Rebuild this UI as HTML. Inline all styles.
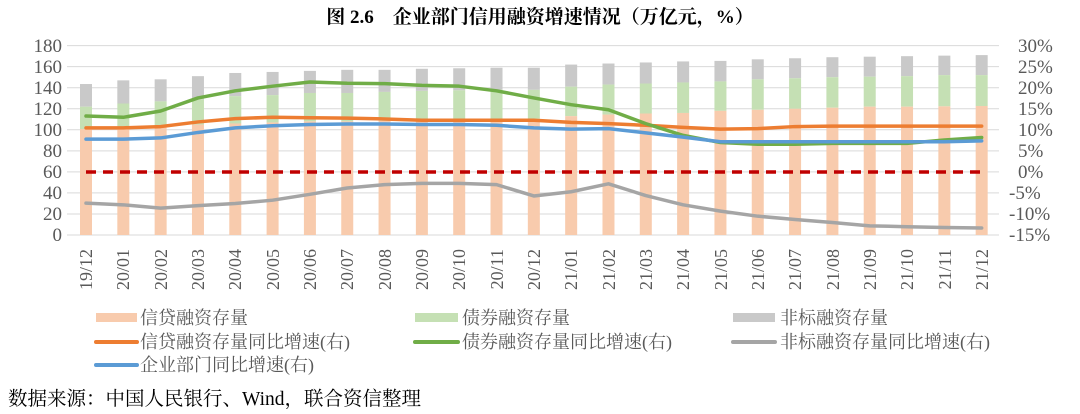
<!DOCTYPE html><html><head><meta charset="utf-8"><style>
body{margin:0;background:#fff;width:1080px;height:409px;overflow:hidden}
svg text{font-family:"Liberation Serif","Noto Serif CJK SC",serif;fill:#595959}
</style></head><body>
<svg id="s" width="1080" height="409" xmlns="http://www.w3.org/2000/svg">
<text x="540" y="23" text-anchor="middle" style="font-size:19px;font-weight:bold;fill:#000">图 2.6　企业部门信用融资增速情况（万亿元，%）</text>
<g id="grid" stroke="#d9d9d9" stroke-width="1"></g>
<g id="bars"></g>
<g id="lines"></g>
<g font-size="19">
<text x="62" y="52" text-anchor="end">180</text>
<text x="62" y="73" text-anchor="end">160</text>
<text x="62" y="94" text-anchor="end">140</text>
<text x="62" y="115" text-anchor="end">120</text>
<text x="62" y="136" text-anchor="end">100</text>
<text x="62" y="157" text-anchor="end">80</text>
<text x="62" y="178" text-anchor="end">60</text>
<text x="62" y="199" text-anchor="end">40</text>
<text x="62" y="220" text-anchor="end">20</text>
<text x="62" y="241" text-anchor="end">0</text>
<text x="1018" y="52">30%</text>
<text x="1018" y="73">25%</text>
<text x="1018" y="94">20%</text>
<text x="1018" y="115">15%</text>
<text x="1018" y="136">10%</text>
<text x="1018" y="157">5%</text>
<text x="1018" y="178">0%</text>
<text x="1009" y="199">-5%</text>
<text x="1009" y="220">-10%</text>
<text x="1009" y="241">-15%</text>
</g>
<g font-size="18" id="xl">
<text transform="translate(92,249) rotate(-90)" text-anchor="end">19/12</text>
<text transform="translate(129,249) rotate(-90)" text-anchor="end">20/01</text>
<text transform="translate(167,249) rotate(-90)" text-anchor="end">20/02</text>
<text transform="translate(204,249) rotate(-90)" text-anchor="end">20/03</text>
<text transform="translate(241,249) rotate(-90)" text-anchor="end">20/04</text>
<text transform="translate(279,249) rotate(-90)" text-anchor="end">20/05</text>
<text transform="translate(316,249) rotate(-90)" text-anchor="end">20/06</text>
<text transform="translate(353,249) rotate(-90)" text-anchor="end">20/07</text>
<text transform="translate(391,249) rotate(-90)" text-anchor="end">20/08</text>
<text transform="translate(428,249) rotate(-90)" text-anchor="end">20/09</text>
<text transform="translate(465,249) rotate(-90)" text-anchor="end">20/10</text>
<text transform="translate(503,249) rotate(-90)" text-anchor="end">20/11</text>
<text transform="translate(540,249) rotate(-90)" text-anchor="end">20/12</text>
<text transform="translate(577,249) rotate(-90)" text-anchor="end">21/01</text>
<text transform="translate(615,249) rotate(-90)" text-anchor="end">21/02</text>
<text transform="translate(652,249) rotate(-90)" text-anchor="end">21/03</text>
<text transform="translate(689,249) rotate(-90)" text-anchor="end">21/04</text>
<text transform="translate(727,249) rotate(-90)" text-anchor="end">21/05</text>
<text transform="translate(764,249) rotate(-90)" text-anchor="end">21/06</text>
<text transform="translate(801,249) rotate(-90)" text-anchor="end">21/07</text>
<text transform="translate(839,249) rotate(-90)" text-anchor="end">21/08</text>
<text transform="translate(876,249) rotate(-90)" text-anchor="end">21/09</text>
<text transform="translate(913,249) rotate(-90)" text-anchor="end">21/10</text>
<text transform="translate(951,249) rotate(-90)" text-anchor="end">21/11</text>
<text transform="translate(988,249) rotate(-90)" text-anchor="end">21/12</text>
</g>
<g font-size="18">
<rect x="96" y="313" width="41" height="9" fill="#f8cbad"/><text x="140" y="324">信贷融资存量</text>
<rect x="415" y="313" width="43" height="9" fill="#c5e0b4"/><text x="462" y="324">债券融资存量</text>
<rect x="733" y="313" width="42" height="9" fill="#c9c9c9"/><text x="780" y="324">非标融资存量</text>
<line x1="96" y1="342" x2="137" y2="342" stroke="#ed7d31" stroke-width="4" stroke-linecap="round"/><text x="140" y="348">信贷融资存量同比增速(右)</text>
<line x1="415" y1="342" x2="458" y2="342" stroke="#70ad47" stroke-width="4" stroke-linecap="round"/><text x="462" y="348">债券融资存量同比增速(右)</text>
<line x1="733" y1="342" x2="775" y2="342" stroke="#a5a5a5" stroke-width="4" stroke-linecap="round"/><text x="780" y="348">非标融资存量同比增速(右)</text>
<line x1="96" y1="365" x2="137" y2="365" stroke="#5b9bd5" stroke-width="4" stroke-linecap="round"/><text x="140" y="371">企业部门同比增速(右)</text>
</g>
<text x="8" y="405" style="font-size:19.5px;fill:#000">数据来源：中国人民银行、Wind，联合资信整理</text>
</svg>
<script>
const NS="http://www.w3.org/2000/svg";
function el(p,t,a){const e=document.createElementNS(NS,t);for(const k in a)e.setAttribute(k,a[k]);p.appendChild(e);return e;}
const g=document.getElementById('grid'),b=document.getElementById('bars'),l=document.getElementById('lines');
const y0=235,sc=1.052;
for(let i=1;i<=9;i++){const y=y0-i*20*sc;el(g,'line',{x1:67,x2:999,y1:y,y2:y});}
el(g,'line',{x1:67,x2:999,y1:y0,y2:y0});
const X=i=>86+37.32*i;
const credit=[100.7,101.5,102.5,105,106,107,108,108,108.5,109,109.5,110,110.5,113,114.5,115.5,116,118,119,120,121,122,122,122.3,122.6];
const green=[122,125,127,129,132,133,135,135,136,137,137.5,138,138,141,143,144,145,146,148,149,150,150.5,151,152,152];
const total=[143.5,147,148,151,154,155,156,157,157,158,158.5,159,159,162,163,164,165,165.5,167,168,169,169.5,170,170.5,171];
for(let i=0;i<25;i++){const x=X(i)-6;
el(b,'rect',{x:x,width:12,y:y0-total[i]*sc,height:(total[i]-green[i])*sc,fill:'#c9c9c9'});
el(b,'rect',{x:x,width:12,y:y0-green[i]*sc,height:(green[i]-credit[i])*sc,fill:'#c5e0b4'});
el(b,'rect',{x:x,width:12,y:y0-credit[i]*sc,height:credit[i]*sc,fill:'#f8cbad'});}
el(l,'line',{x1:86,x2:982,y1:172,y2:172,stroke:'#c00000','stroke-width':3.5,'stroke-dasharray':'10,7'});
const P=v=>172-v*4.207;
const S={
'#a5a5a5':[-7.4,-7.8,-8.6,-8,-7.5,-6.7,-5.3,-3.8,-3,-2.7,-2.7,-3,-5.7,-4.7,-2.8,-5.6,-7.8,-9.3,-10.5,-11.3,-12,-12.8,-13,-13.2,-13.3],
'#ed7d31':[10.5,10.5,10.8,11.9,12.7,13,12.9,12.8,12.6,12.3,12.3,12.3,12.3,11.8,11.5,11.1,10.6,10.2,10.3,10.8,10.9,10.9,10.9,10.9,10.9],
'#70ad47':[13.3,13,14.5,17.6,19.3,20.4,21.4,21.1,21,20.6,20.4,19.3,17.6,16,14.8,11.5,8.7,7,6.6,6.6,6.8,6.8,6.8,7.6,8.2],
'#5b9bd5':[7.8,7.8,8.1,9.4,10.5,11,11.3,11.4,11.4,11.3,11.3,11.1,10.5,10.2,10.3,9.3,8.3,7.2,7.2,7.2,7.2,7.2,7.2,7.2,7.4]};
for(const c in S){el(l,'polyline',{points:S[c].map((v,i)=>X(i)+','+P(v)).join(' '),fill:'none',stroke:c,'stroke-width':3.5,'stroke-linejoin':'round','stroke-linecap':'round'});}
</script>
</body></html>
